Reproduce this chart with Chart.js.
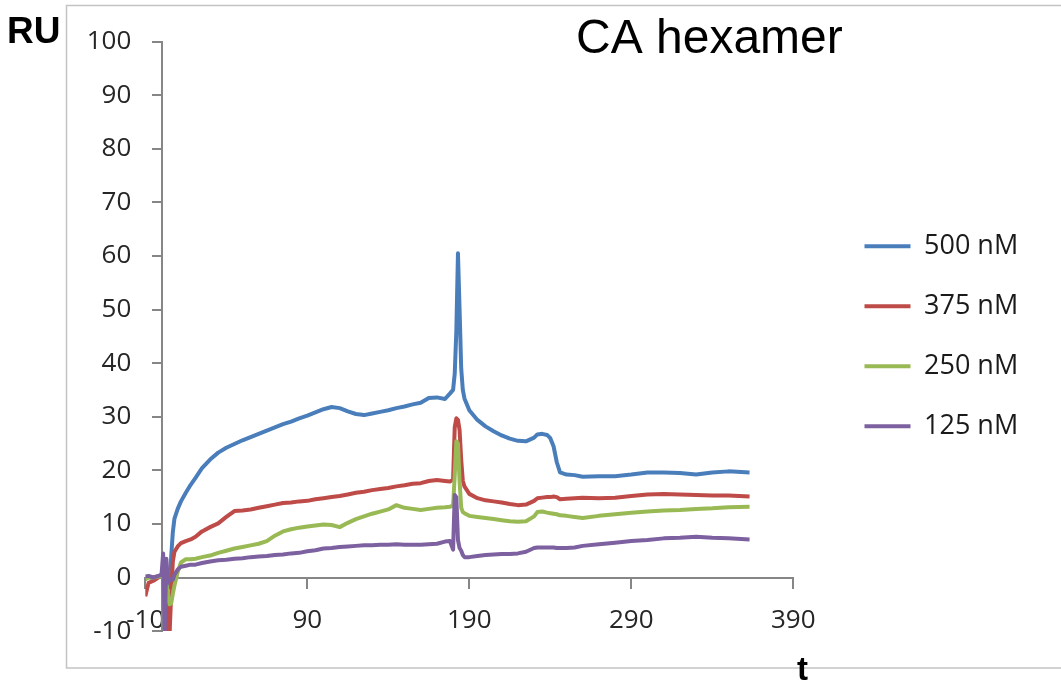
<!DOCTYPE html>
<html>
<head>
<meta charset="utf-8">
<script src="https://cdn.jsdelivr.net/npm/chart.js@4/dist/chart.umd.min.js"></script>
<style>
  html, body { margin: 0; padding: 0; background: #fff; }
  #wrap { width: 1061px; height: 694px; position: relative; }
</style>
</head>
<body>
<div id="wrap"><canvas id="sprChart"></canvas></div>
<script>
// sensorgram, CA hexamer binding (RU vs time)
const chartTitle = 'CA hexamer';
const seriesLabels = ['500 nM', '375 nM', '250 nM', '125 nM'];
const xTicks = [-10, 90, 190, 290, 390];
const yTicks = [-10, 0, 10, 20, 30, 40, 50, 60, 70, 80, 90, 100];

const time = [-10, -8, -5, -2, 0, 1, 2, 3, 4, 5, 6, 7, 8, 10, 12, 15, 18, 21, 25,
  30, 35, 40, 45, 50, 55, 60, 65, 70, 75, 80, 85, 90, 95, 100, 105, 110, 115, 120,
  125, 130, 135, 140, 145, 150, 155, 160, 165, 170, 175, 178, 180, 181, 182, 183,
  184, 185, 186, 187, 190, 195, 200, 205, 210, 215, 220, 225, 230, 232, 235, 238,
  240, 242, 244, 246, 250, 255, 260, 270, 280, 290, 300, 310, 320, 330, 340, 350, 363];

const ru500 = [-0.3, 0.1, -0.2, 0.2, 0.3, 0.5, 0.3, -0.3, -1.2, -1.8, 4, 8.5, 11, 12.8, 14.2, 15.8, 17.3, 18.6, 20.4,
  22, 23.3, 24.2, 24.9, 25.6, 26.2, 26.8, 27.4, 28, 28.6, 29.1, 29.7, 30.2, 30.8, 31.4, 31.8, 31.6, 31, 30.5,
  30.3, 30.6, 30.9, 31.2, 31.6, 31.9, 32.3, 32.6, 33.5, 33.6, 33.3, 34.3, 35, 38, 46, 60.5,
  50, 39, 35, 33.4, 31.2, 29.4, 28.2, 27.3, 26.5, 25.9, 25.5, 25.4, 26.1, 26.7, 26.8, 26.6,
  26, 24.5, 21.5, 19.6, 19.2, 19.1, 18.8, 18.9, 18.9, 19.2, 19.6, 19.6, 19.5, 19.2, 19.6, 19.8, 19.6];

const ru375 = [-3.5, -1, -0.6, 0, 0.6, 0.8, 0.4, -4, -10.5, -10.5, -3, 3, 4.8, 5.8, 6.4, 6.8, 7.1, 7.6, 8.6,
  9.4, 10.1, 11.3, 12.4, 12.5, 12.7, 13, 13.3, 13.6, 13.9, 14, 14.2, 14.3, 14.6, 14.8, 15, 15.2, 15.5, 15.8,
  16, 16.3, 16.5, 16.7, 17, 17.2, 17.5, 17.6, 18, 18.2, 18, 17.9, 18.3, 28, 29.7, 29.4,
  27.5, 22, 18, 17, 15.6, 14.8, 14.4, 14.2, 14, 13.7, 13.5, 13.6, 14.3, 14.8, 14.9, 15,
  15, 15.1, 15, 14.6, 14.7, 14.8, 14.9, 14.8, 14.9, 15.2, 15.5, 15.6, 15.5, 15.4, 15.3, 15.3, 15.1];

const ru250 = [-0.3, 0, 0, 0.2, 0.2, 0, -0.5, -1, -3.5, -5, -4.8, -3, -1.5, 1, 2.8, 3.4, 3.4, 3.5, 3.8,
  4.1, 4.6, 5, 5.4, 5.7, 6, 6.3, 6.8, 7.8, 8.6, 9, 9.3, 9.5, 9.7, 9.9, 9.8, 9.4, 10.2, 10.9,
  11.4, 11.9, 12.3, 12.7, 13.5, 13, 12.8, 12.6, 12.8, 13, 13.1, 13.2, 13.4, 19, 25.4, 25,
  18, 13, 12.2, 12, 11.5, 11.3, 11.1, 10.9, 10.7, 10.5, 10.4, 10.5, 11.4, 12.2, 12.3, 12.1,
  12, 11.9, 11.8, 11.6, 11.5, 11.3, 11.1, 11.5, 11.8, 12.1, 12.3, 12.5, 12.6, 12.8, 12.9, 13.1, 13.2];

const ru125 = [0.2, 0.3, 0, 0.3, 0.5, 4.5, -9.8, 3.5, -1, -0.5, -0.3, -0.4, 0.5, 1.5, 2, 2.2, 2.4, 2.4, 2.7,
  3, 3.2, 3.3, 3.5, 3.6, 3.8, 3.9, 4, 4.2, 4.3, 4.5, 4.6, 4.9, 5.1, 5.4, 5.5, 5.7, 5.8, 5.9,
  6, 6, 6.1, 6.1, 6.2, 6.1, 6.1, 6.1, 6.2, 6.3, 6.7, 6.8, 5.2, 15.4, 15, 7,
  5.5, 5, 4.2, 3.8, 3.8, 4, 4.2, 4.3, 4.4, 4.4, 4.5, 4.8, 5.5, 5.6, 5.6, 5.6,
  5.6, 5.6, 5.5, 5.5, 5.5, 5.6, 5.9, 6.2, 6.5, 6.8, 7, 7.3, 7.4, 7.6, 7.4, 7.3, 7.1];

function toPoints(values) {
    return time.map((t, i) => ({ x: t, y: values[i] }));
}

Chart.defaults.font.family = "'Open Sans', sans-serif";
Chart.defaults.color = '#262626';

// frame, title and axis captions drawn around the plot
const decorPlugin = {
    id: 'decor',
    beforeDraw(chart) {
        const ctx = chart.ctx;
        ctx.save();
        ctx.fillStyle = '#fff';
        ctx.fillRect(0, 0, chart.width, chart.height);
        ctx.strokeStyle = '#c3c3c3';
        ctx.lineWidth = 1.5;
        ctx.strokeRect(66.5, 5.5, 1100, 662.5);
        ctx.restore();
    },
    afterDraw(chart) {
        const ctx = chart.ctx;
        ctx.save();
        ctx.fillStyle = '#000';
        ctx.textBaseline = 'alphabetic';
        ctx.font = "48px 'Liberation Sans'";
        ctx.fillText(chartTitle, 576, 53);
        ctx.font = "bold 37px 'Liberation Sans'";
        ctx.fillText('RU', 7, 43);
        ctx.font = "bold 33px 'Liberation Sans'";
        ctx.fillText('t', 797, 680);
        ctx.restore();
    }
};

const axisGray = '#868686';
const setTicks = (list) => (axis) => { axis.ticks = list.map(v => ({ value: v })); };

const ctx = document.getElementById('sprChart').getContext('2d');
const sprChart = new Chart(ctx, {
    type: 'line',
    data: {
        datasets: [
            { label: seriesLabels[0], data: toPoints(ru500), borderColor: '#4a7ebb', backgroundColor: '#4a7ebb', order: 4 },
            { label: seriesLabels[1], data: toPoints(ru375), borderColor: '#be4b48', backgroundColor: '#be4b48', order: 3 },
            { label: seriesLabels[2], data: toPoints(ru250), borderColor: '#98b954', backgroundColor: '#98b954', order: 2 },
            { label: seriesLabels[3], data: toPoints(ru125), borderColor: '#7d60a0', backgroundColor: '#7d60a0', order: 1 }
        ]
    },
    options: {
        responsive: true,
        maintainAspectRatio: false,
        animation: false,
        events: [],
        layout: {
            padding: { left: 0, top: 41.5, right: 34.5, bottom: 62.9 }
        },
        elements: {
            line: { borderWidth: 4, tension: 0, borderJoinStyle: 'round' },
            point: { radius: 0, borderWidth: 4 }
        },
        scales: {
            x: {
                type: 'linear',
                position: { y: 0 },
                min: -10,
                max: 390,
                afterBuildTicks: setTicks(xTicks),
                ticks: { autoSkip: false, maxRotation: 0, padding: 17, font: { size: 26 } },
                grid: { drawOnChartArea: false, drawTicks: true, tickLength: 10, color: axisGray, lineWidth: 2 },
                border: { display: true, color: axisGray, width: 2 }
            },
            // value labels sit at the left edge of the plot
            y: {
                type: 'linear',
                position: 'left',
                min: -10,
                max: 100,
                afterBuildTicks: setTicks(yTicks),
                afterFit: (axis) => { axis.width = 145.3; },
                ticks: { autoSkip: false, padding: 6, font: { size: 26 } },
                grid: { display: false },
                border: { display: false }
            },
            // the vertical axis line itself crosses at t = 0
            yLine: {
                type: 'linear',
                position: { x: 0 },
                min: -10,
                max: 100,
                afterBuildTicks: setTicks(yTicks),
                ticks: { display: false },
                grid: { drawOnChartArea: false, drawTicks: true, tickLength: 9, color: axisGray, lineWidth: 2 },
                border: { display: true, color: axisGray, width: 2 }
            },
            // empty box that only holds the gap between plot and legend
            gap: {
                type: 'linear',
                position: 'right',
                display: true,
                grid: { display: false },
                ticks: { display: false },
                border: { display: false },
                afterFit: (axis) => { axis.width = 38.2; }
            }
        },
        plugins: {
            legend: {
                position: 'right',
                maxWidth: 195,
                labels: {
                    usePointStyle: true,
                    pointStyle: 'line',
                    pointStyleWidth: 46,
                    padding: 33,
                    font: { size: 27 },
                    color: '#1a1a1a',
                    sort: (a, b) => a.datasetIndex - b.datasetIndex
                }
            },
            tooltip: { enabled: false }
        }
    },
    plugins: [decorPlugin]
});
</script>
</body>
</html>
